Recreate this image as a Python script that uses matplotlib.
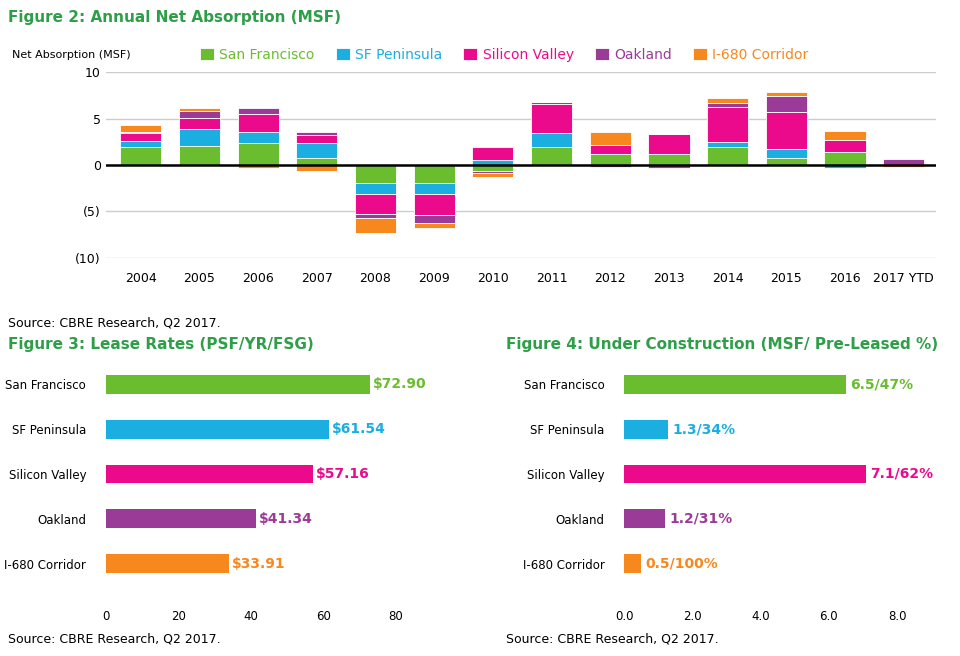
import numpy as np
import matplotlib.pyplot as plt

plt.rcParams['font.family'] = ['DejaVu Sans']

years = ["2004", "2005", "2006", "2007", "2008", "2009", "2010", "2011",
         "2012", "2013", "2014", "2015", "2016", "2017 YTD"]
markets = ["San Francisco", "SF Peninsula", "Silicon Valley", "Oakland", "I-680 Corridor"]
colors = ["#6ABD2E", "#1BAEE0", "#EC0A8C", "#9B3B98", "#F7881E"]

sf   = [1.9, 2.0, 2.4, 0.7, -1.9, -1.9, -0.6, 1.9, 1.2, 1.2, 1.9, 0.8, 1.4, 0.0]
pen  = [0.7, 1.9, 1.2, 1.7, -1.2, -1.2, 0.5, 1.5, 0.0, 0.0, 0.6, 0.9, -0.3, 0.0]
sv   = [0.8, 1.2, 1.9, 0.8, -2.2, -2.3, 1.4, 3.2, 1.0, 2.1, 3.7, 4.0, 1.3, 0.0]
oak  = [0.1, 0.7, 0.6, 0.4, -0.4, -0.9, -0.3, 0.2, -0.2, -0.3, 0.5, 1.7, 0.0, 0.6]
i680 = [0.8, 0.3, -0.3, -0.6, -1.6, -0.5, -0.4, 0.0, 1.4, 0.0, 0.5, 0.5, 1.0, -0.2]
series = [sf, pen, sv, oak, i680]

lease = [72.90, 61.54, 57.16, 41.34, 33.91]
uc_msf = [6.5, 1.3, 7.1, 1.2, 0.5]
uc_pct = [47, 34, 62, 31, 100]

title_c = "#2E9E48"
fig = plt.figure(figsize=(9.6, 6.56), dpi=100)

# Figure 2
ax = fig.add_axes([0.11, 0.607, 0.865, 0.283])
x = np.arange(len(years))
pos = np.zeros(len(years))
neg = np.zeros(len(years))
for vals, c, name in zip(series, colors, markets):
    v = np.array(vals)
    bottom = np.where(v >= 0, pos, neg)
    ax.bar(x, v, 0.7, bottom=bottom, color=c, edgecolor="white", linewidth=0.6, label=name)
    pos += np.where(v >= 0, v, 0)
    neg += np.where(v < 0, v, 0)
ax.axhline(0, color="black", lw=1.8)
ax.set_ylim(-10, 10)
ax.set_xlim(-0.6, len(years) - 0.45)
ax.set_yticks([-10, -5, 0, 5, 10])
ax.set_yticklabels(["(10)", "(5)", "0", "5", "10"])
ax.set_xticks(x)
ax.set_xticklabels(years)
ax.yaxis.grid(True, color="#cccccc", lw=1)
ax.set_axisbelow(True)
for s in ax.spines.values():
    s.set_visible(False)
ax.tick_params(length=0, labelsize=9)
ax.tick_params(axis="x", pad=10)
leg = ax.legend(loc="lower center", bbox_to_anchor=(0.48, 0.99), ncol=5, frameon=False,
                handlelength=1, handleheight=1, handletextpad=0.4, columnspacing=1.5, fontsize=10)
for t, c in zip(leg.get_texts(), colors):
    t.set_color(c)
fig.text(0.008, 0.967, "Figure 2: Annual Net Absorption (MSF)", color=title_c, fontsize=11, fontweight="bold")
fig.text(0.012, 0.912, "Net Absorption (MSF)", fontsize=8)
fig.text(0.008, 0.503, "Source: CBRE Research, Q2 2017.", fontsize=9)

# Figure 3
ax3 = fig.add_axes([0.11, 0.1, 0.34, 0.355])
yy = np.arange(len(markets))[::-1]
ax3.barh(yy, lease, 0.42, color=colors)
for yv, v, c in zip(yy, lease, colors):
    ax3.text(v + 0.8, yv, f"${v:.2f}", color=c, va="center", fontsize=10, fontweight="bold")
ax3.set_xlim(0, 90)
ax3.set_xticks([0, 20, 40, 60, 80])
ax3.set_yticks(yy)
ax3.set_yticklabels(markets)
ax3.set_ylim(-0.6, 4.6)
for s in ax3.spines.values():
    s.set_visible(False)
ax3.tick_params(length=0, labelsize=8.5, pad=14)
fig.text(0.008, 0.468, "Figure 3: Lease Rates (PSF/YR/FSG)", color=title_c, fontsize=11, fontweight="bold")
fig.text(0.008, 0.02, "Source: CBRE Research, Q2 2017.", fontsize=9)

# Figure 4
ax4 = fig.add_axes([0.65, 0.1, 0.32, 0.355])
ax4.barh(yy, uc_msf, 0.42, color=colors)
for yv, v, p, c in zip(yy, uc_msf, uc_pct, colors):
    ax4.text(v + 0.12, yv, f"{v:.1f}/{p}%", color=c, va="center", fontsize=10, fontweight="bold")
ax4.set_xlim(0, 9)
ax4.set_xticks([0, 2, 4, 6, 8])
ax4.set_xticklabels(["0.0", "2.0", "4.0", "6.0", "8.0"])
ax4.set_yticks(yy)
ax4.set_yticklabels(markets)
ax4.set_ylim(-0.6, 4.6)
for s in ax4.spines.values():
    s.set_visible(False)
ax4.tick_params(length=0, labelsize=8.5, pad=14)
fig.text(0.527, 0.468, "Figure 4: Under Construction (MSF/ Pre-Leased %)", color=title_c, fontsize=11, fontweight="bold")
fig.text(0.527, 0.02, "Source: CBRE Research, Q2 2017.", fontsize=9)

fig.savefig("out.png", dpi=100)
